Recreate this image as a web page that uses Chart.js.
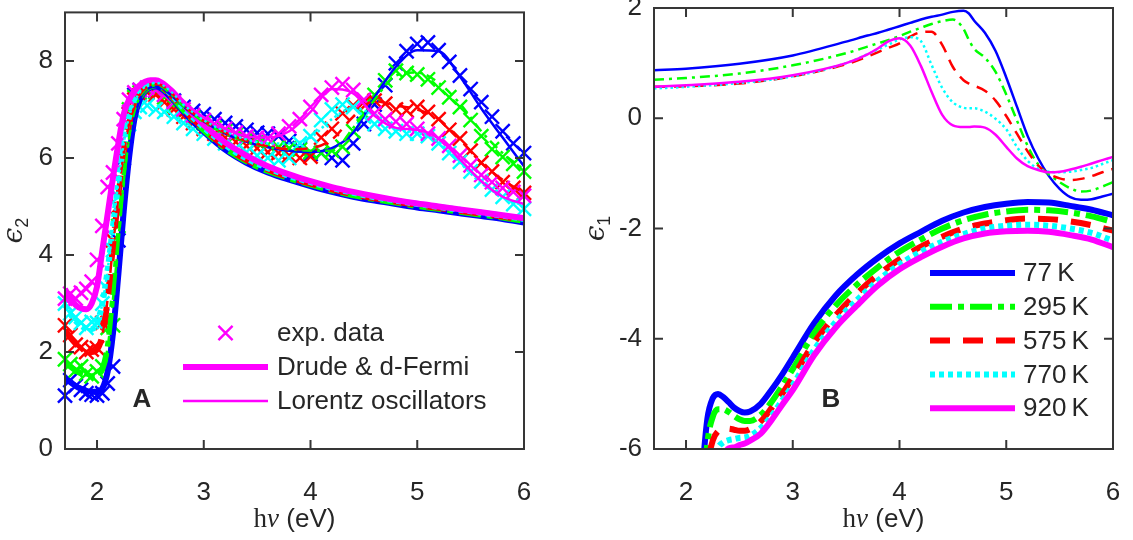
<!DOCTYPE html>
<html><head><meta charset="utf-8">
<script src="https://cdn.jsdelivr.net/npm/chart.js@4.4.1/dist/chart.umd.min.js"></script>
<style>
html,body{margin:0;padding:0;background:#fff;}
#wrap{position:relative;width:1133px;height:540px;overflow:hidden;}
canvas{position:absolute;top:0;}
#cA{left:0;} #cB{left:566px;}
</style></head><body>
<div id="wrap"><canvas id="cA" width="566" height="540"></canvas><canvas id="cB" width="567" height="540"></canvas></div>
<script>
// ---------- tick labels ----------
const xTicks = [2, 3, 4, 5, 6];
const yTicksA = [0, 2, 4, 6, 8];
const yTicksB = [-6, -4, -2, 0, 2];

// ---------- series names ----------
const tempLabels = ['77\u2009K', '295\u2009K', '575\u2009K', '770\u2009K', '920\u2009K'];
const legendLabelsA = ['exp. data', 'Drude & d-Fermi', 'Lorentz oscillators'];

// ---------- panel A : epsilon_2 ----------
const eA = [1.7,1.75,1.8,1.85,1.9,1.95,2.0,2.05,2.1,2.15,2.2,2.25,2.3,2.35,2.4,2.45,2.5,2.55,2.6,2.7,2.8,2.9,3.0,3.2,3.4,3.6,3.8,4.0,4.2,4.4,4.6,4.8,5.0,5.2,5.4,5.6,5.8,6.0];
const drudeA77  = [1.45,1.38,1.3,1.24,1.2,1.18,1.18,1.25,1.6,2.4,3.6,4.9,6.0,6.8,7.2,7.38,7.45,7.47,7.43,7.23,6.98,6.75,6.54,6.17,5.9,5.7,5.55,5.42,5.3,5.2,5.12,5.05,4.98,4.92,4.86,4.8,4.74,4.67];
const drudeA295 = [1.8,1.7,1.62,1.56,1.52,1.5,1.52,1.65,2.1,3.1,4.3,5.5,6.4,6.95,7.25,7.4,7.47,7.5,7.46,7.26,7.01,6.78,6.57,6.2,5.93,5.73,5.58,5.45,5.33,5.23,5.15,5.08,5.01,4.95,4.89,4.83,4.77,4.7];
const drudeA575 = [2.45,2.3,2.17,2.08,2.02,2.0,2.05,2.35,3.1,4.2,5.2,6.1,6.7,7.05,7.3,7.43,7.5,7.52,7.48,7.28,7.03,6.8,6.6,6.23,5.96,5.76,5.6,5.47,5.35,5.25,5.17,5.1,5.03,4.97,4.91,4.85,4.79,4.72];
const drudeA770 = [2.95,2.78,2.64,2.54,2.48,2.47,2.6,3.0,3.7,4.6,5.5,6.3,6.85,7.15,7.35,7.47,7.53,7.55,7.5,7.3,7.05,6.83,6.63,6.27,5.99,5.79,5.63,5.5,5.38,5.28,5.19,5.12,5.05,4.99,4.93,4.87,4.81,4.74];
const drudeA920 = [3.3,3.1,2.97,2.9,2.88,3.0,3.35,4.1,4.85,5.6,6.3,6.9,7.2,7.38,7.5,7.57,7.6,7.6,7.56,7.38,7.13,6.9,6.68,6.32,6.05,5.83,5.66,5.52,5.4,5.3,5.21,5.13,5.06,5.0,4.94,4.88,4.82,4.76];

const lorA77  = [1.45,1.38,1.3,1.24,1.2,1.18,1.18,1.25,1.6,2.4,3.6,4.9,6.0,6.8,7.2,7.38,7.45,7.47,7.45,7.28,7.08,6.9,6.75,6.5,6.33,6.22,6.15,6.12,6.2,6.52,7.25,7.88,8.22,8.2,7.68,7.02,6.42,5.83];
const lorA295 = [1.8,1.7,1.62,1.56,1.52,1.5,1.52,1.65,2.1,3.1,4.3,5.5,6.4,6.95,7.25,7.4,7.47,7.5,7.48,7.3,7.08,6.9,6.74,6.5,6.33,6.22,6.18,6.15,6.15,6.62,7.2,7.7,7.76,7.55,7.12,6.55,6.1,5.76];
const lorA575 = [2.45,2.3,2.17,2.08,2.02,2.0,2.05,2.35,3.1,4.2,5.2,6.1,6.7,7.05,7.3,7.43,7.5,7.52,7.5,7.33,7.1,6.92,6.76,6.52,6.35,6.24,6.18,6.2,6.38,6.85,7.17,7.08,7.0,6.8,6.38,5.9,5.55,5.28];
const lorA770 = [2.95,2.78,2.64,2.54,2.48,2.47,2.6,3.0,3.7,4.6,5.5,6.3,6.85,7.15,7.35,7.47,7.53,7.55,7.52,7.36,7.12,6.94,6.78,6.55,6.38,6.3,6.3,6.42,6.8,7.03,6.88,6.6,6.52,6.32,5.9,5.48,5.2,5.01];
const lorA920 = [3.3,3.1,2.97,2.9,2.88,3.0,3.35,4.1,4.85,5.6,6.3,6.9,7.2,7.38,7.5,7.57,7.6,7.6,7.58,7.42,7.2,7.0,6.84,6.6,6.45,6.42,6.55,6.95,7.42,7.33,6.87,6.62,6.58,6.4,5.97,5.52,5.2,5.05];

const expE = [1.70,1.75,1.80,1.85,1.90,1.95,2.00,2.05,2.10,2.15,2.20,2.25,2.30,2.35,2.40,2.47,2.55,2.63,2.72,2.81,2.90,3.00,3.10,3.20,3.30,3.40,3.50,3.60,3.70,3.80,3.90,4.00,4.10,4.20,4.30,4.40,4.50,4.60,4.70,4.80,4.90,5.00,5.10,5.20,5.30,5.40,5.50,5.60,5.70,5.80,5.90,6.00];
const expA77  = [1.1,1.42,1.3,1.22,1.15,1.12,1.1,1.15,1.35,1.7,4.3,6.0,6.9,7.3,7.4,7.42,7.38,7.3,7.18,7.05,6.97,6.9,6.8,6.72,6.65,6.58,6.52,6.5,6.45,6.35,6.2,6.08,6.1,6.0,5.95,6.3,6.7,7.1,7.5,7.95,8.2,8.35,8.38,8.22,7.98,7.7,7.42,7.15,6.85,6.55,6.3,6.1];
const expA295 = [1.85,1.75,1.62,1.7,1.55,1.5,1.6,1.7,2.5,2.55,4.6,6.2,7.0,7.25,7.35,7.4,7.35,7.25,7.08,6.95,6.83,6.72,6.62,6.55,6.48,6.4,6.33,6.27,6.22,6.2,6.17,6.12,6.1,6.15,6.23,6.55,6.91,7.3,7.6,7.8,7.75,7.72,7.62,7.45,7.25,7.05,6.78,6.45,6.18,6.02,5.88,5.72];
const expA575 = [2.55,2.35,2.15,2.1,2.0,2.05,2.08,2.6,2.6,4.3,5.0,6.2,6.9,7.2,7.3,7.35,7.3,7.15,7.0,6.85,6.72,6.6,6.5,6.42,6.33,6.25,6.2,6.12,6.1,6.05,6.0,6.03,6.42,6.6,6.92,7.08,7.15,7.18,7.12,7.0,6.98,7.05,6.95,6.8,6.58,6.4,6.15,5.9,5.72,5.5,5.38,5.28];
const expA770 = [3.0,2.8,2.72,2.6,2.5,2.62,2.6,3.0,3.3,4.1,5.2,6.1,6.7,6.95,7.05,7.08,7.0,6.95,6.85,6.72,6.6,6.5,6.4,6.3,6.2,6.12,6.05,6.0,5.95,6.0,6.3,6.45,6.78,7.0,7.1,7.05,6.85,6.7,6.6,6.55,6.5,6.5,6.45,6.3,6.1,5.92,5.72,5.52,5.35,5.2,5.05,4.95];
const expA920 = [3.1,3.2,3.1,3.22,3.3,3.45,3.9,4.6,5.4,5.7,6.3,6.8,7.2,7.35,7.4,7.45,7.4,7.3,7.15,7.0,6.88,6.78,6.7,6.6,6.52,6.45,6.42,6.4,6.5,6.65,6.8,7.05,7.3,7.45,7.52,7.4,7.2,6.92,6.8,6.75,6.7,6.6,6.5,6.4,6.25,6.05,5.85,5.65,5.5,5.38,5.3,5.22];

// ---------- panel B : epsilon_1 ----------
const eBthin = [1.7,2.0,2.5,3.0,3.5,3.7,3.8,3.9,4.0,4.1,4.2,4.3,4.4,4.5,4.6,4.65,4.7,4.8,4.9,5.0,5.1,5.2,5.3,5.4,5.5,5.6,5.7,5.8,5.9,6.0];
const lorB77  = [0.87,0.9,0.99,1.14,1.39,1.5,1.55,1.61,1.67,1.73,1.79,1.84,1.88,1.93,1.95,1.9,1.77,1.55,1.22,0.74,0.21,-0.32,-0.73,-1.05,-1.28,-1.43,-1.48,-1.47,-1.42,-1.37];
const lorB295 = [0.7,0.73,0.81,0.96,1.18,1.3,1.36,1.42,1.49,1.57,1.64,1.71,1.76,1.79,1.62,1.42,1.26,1.1,0.84,0.43,-0.04,-0.5,-0.84,-1.02,-1.16,-1.27,-1.33,-1.31,-1.24,-1.16];
const lorB575 = [0.57,0.58,0.63,0.76,0.98,1.12,1.2,1.28,1.36,1.48,1.56,1.57,1.33,0.93,0.69,0.63,0.59,0.5,0.32,0.04,-0.28,-0.6,-0.86,-1.01,-1.09,-1.12,-1.1,-1.05,-0.98,-0.92];
const lorB770 = [0.54,0.57,0.64,0.76,1.0,1.16,1.25,1.34,1.43,1.47,1.4,0.97,0.55,0.29,0.19,0.18,0.18,0.12,-0.01,-0.2,-0.52,-0.77,-0.92,-0.97,-0.98,-0.97,-0.94,-0.9,-0.83,-0.76];
const lorB920 = [0.57,0.6,0.66,0.78,1.0,1.16,1.27,1.4,1.45,1.32,0.95,0.48,0.06,-0.13,-0.16,-0.16,-0.15,-0.17,-0.3,-0.52,-0.73,-0.87,-0.94,-0.98,-0.97,-0.93,-0.88,-0.82,-0.76,-0.7];

const eBthick = [2.1,2.15,2.2,2.25,2.3,2.35,2.4,2.45,2.5,2.55,2.6,2.7,2.8,2.9,3.0,3.2,3.4,3.6,3.8,4.0,4.2,4.4,4.6,4.8,5.0,5.2,5.4,5.6,5.8,6.0];
const drudeB77  = [-8,-6.5,-5.45,-5.08,-5.0,-5.06,-5.15,-5.25,-5.31,-5.34,-5.32,-5.18,-4.93,-4.65,-4.34,-3.72,-3.22,-2.84,-2.53,-2.27,-2.06,-1.86,-1.71,-1.61,-1.55,-1.52,-1.53,-1.59,-1.66,-1.76];
const drudeB295 = [-8.5,-7.2,-5.9,-5.42,-5.28,-5.28,-5.33,-5.4,-5.46,-5.49,-5.49,-5.38,-5.15,-4.86,-4.55,-3.9,-3.4,-3.02,-2.7,-2.42,-2.2,-2.0,-1.85,-1.75,-1.69,-1.66,-1.67,-1.71,-1.78,-1.88];
const drudeB575 = [-9,-8,-6.4,-5.85,-5.68,-5.63,-5.63,-5.65,-5.67,-5.67,-5.64,-5.5,-5.26,-5.0,-4.7,-4.07,-3.58,-3.18,-2.84,-2.56,-2.33,-2.15,-2.0,-1.91,-1.85,-1.82,-1.83,-1.87,-1.94,-2.04];
const drudeB770 = [-9,-8.5,-7.3,-6.3,-5.98,-5.88,-5.84,-5.82,-5.8,-5.79,-5.76,-5.62,-5.4,-5.12,-4.84,-4.2,-3.7,-3.3,-2.94,-2.65,-2.42,-2.24,-2.1,-2.0,-1.95,-1.93,-1.95,-2.0,-2.08,-2.22];
const drudeB920 = [-9,-9,-8.5,-7.5,-6.6,-6.15,-5.99,-5.97,-5.93,-5.9,-5.85,-5.72,-5.48,-5.2,-4.93,-4.3,-3.8,-3.4,-3.03,-2.74,-2.52,-2.33,-2.18,-2.09,-2.05,-2.04,-2.06,-2.12,-2.2,-2.34];

// ---------- styles ----------
const COLORS = ['#0000ff', '#00ff00', '#ff0000', '#00ffff', '#ff00ff'];
const DASH_THICK = [[], [22, 6, 6, 6], [20, 13], [5, 4], []];
const DASH_THIN = [[], [10, 5, 3, 5], [12, 8], [2.5, 3], []];
const LW_THICK = 6, LW_THIN = 2.5;
const SANS = '"Liberation Sans", Arial, sans-serif';
const TXT = '#262626';

const pts = (xs, ys) => xs.map((x, i) => ({x, y: ys[i]}));

function lineDs(xs, ys, i, thick) {
  return {
    type: 'line', data: pts(xs, ys), borderColor: COLORS[i], backgroundColor: COLORS[i],
    borderWidth: thick ? LW_THICK : LW_THIN, borderDash: thick ? DASH_THICK[i] : DASH_THIN[i],
    borderCapStyle: 'butt', borderJoinStyle: 'round', pointRadius: 0, fill: false,
    cubicInterpolationMode: 'monotone'
  };
}
function expDs(ys, i) {
  return {
    type: 'line', showLine: false, data: pts(expE, ys), borderColor: COLORS[i], backgroundColor: COLORS[i],
    pointStyle: 'crossRot', pointRadius: 10, pointBorderWidth: 2.4, clip: false
  };
}

const drudeA = [drudeA77, drudeA295, drudeA575, drudeA770, drudeA920];
const lorA = [lorA77, lorA295, lorA575, lorA770, lorA920];
const expA = [expA77, expA295, expA575, expA770, expA920];
const lorB = [lorB77, lorB295, lorB575, lorB770, lorB920];
const drudeB = [drudeB77, drudeB295, drudeB575, drudeB770, drudeB920];

// draw order bottom -> top, then reversed because Chart.js paints dataset 0 last
let dsA = [];
for (let i = 0; i < 5; i++) { dsA.push(expDs(expA[i], i)); }
for (let i = 0; i < 5; i++) { dsA.push(lineDs(eA, drudeA[i], i, true)); }
for (let i = 0; i < 5; i++) { dsA.push(lineDs(eA, lorA[i], i, false)); }
dsA.reverse();
let dsB = [];
for (let i = 0; i < 5; i++) { dsB.push(lineDs(eBthin, lorB[i], i, false)); }
for (let i = 0; i < 5; i++) { dsB.push(lineDs(eBthick, drudeB[i], i, true)); }
dsB.reverse();

function drawRuns(ctx, runs, cx, cy) {
  let total = 0;
  runs.forEach(r => { ctx.font = r.font; r.w = ctx.measureText(r.t).width; total += r.w; });
  let x = cx - total / 2;
  runs.forEach(r => { ctx.font = r.font; ctx.fillText(r.t, x, cy + (r.dy || 0)); x += r.w; });
}

function decor(cfg) {
  return {
    id: 'decor',
    afterDraw(chart) {
      const ctx = chart.ctx, a = chart.chartArea, xs = chart.scales.x, ys = chart.scales.y;
      ctx.save();
      ctx.strokeStyle = '#363636'; ctx.lineWidth = 2; ctx.setLineDash([]);
      ctx.strokeRect(a.left, a.top, a.right - a.left, a.bottom - a.top);
      const tl = 9;
      ctx.beginPath();
      xs.ticks.forEach(t => { const p = xs.getPixelForValue(t.value);
        ctx.moveTo(p, a.bottom); ctx.lineTo(p, a.bottom - tl); ctx.moveTo(p, a.top); ctx.lineTo(p, a.top + tl); });
      ys.ticks.forEach(t => { const p = ys.getPixelForValue(t.value);
        ctx.moveTo(a.left, p); ctx.lineTo(a.left + tl, p); ctx.moveTo(a.right, p); ctx.lineTo(a.right - tl, p); });
      ctx.stroke();
      // x title
      ctx.fillStyle = TXT; ctx.textBaseline = 'alphabetic'; ctx.textAlign = 'left';
      drawRuns(ctx, [
        {t: 'h', font: '27px "Liberation Serif", serif'},
        {t: '\u03bd', font: 'italic 27px "Liberation Serif", serif'},
        {t: ' (eV)', font: '26px ' + SANS}
      ], (a.left + a.right) / 2, 527);
      // y title (rotated)
      ctx.save();
      ctx.translate(cfg.ytx, (a.top + a.bottom) / 2);
      ctx.rotate(-Math.PI / 2);
      drawRuns(ctx, [
        {t: '\u03f5', font: 'italic 28px "DejaVu Serif", serif'},
        {t: cfg.ysub, font: '18px ' + SANS, dy: 6}
      ], 0, 6);
      ctx.restore();
      // panel letter
      ctx.font = 'bold 26px ' + SANS; ctx.textAlign = 'center'; ctx.textBaseline = 'middle';
      ctx.fillText(cfg.letter, cfg.lx, cfg.ly);
      // legend
      ctx.textAlign = 'left'; ctx.font = '26px ' + SANS;
      cfg.legend.forEach(it => {
        ctx.strokeStyle = it.color; ctx.fillStyle = it.color;
        if (it.kind === 'marker') {
          const r = 10 * Math.SQRT1_2; const mx = (cfg.l0 + cfg.l1) / 2;
          ctx.lineWidth = 2.4; ctx.setLineDash([]);
          ctx.beginPath(); ctx.moveTo(mx - r, it.y - r); ctx.lineTo(mx + r, it.y + r);
          ctx.moveTo(mx - r, it.y + r); ctx.lineTo(mx + r, it.y - r); ctx.stroke();
        } else {
          ctx.lineWidth = it.lw; ctx.setLineDash(it.dash); ctx.lineCap = 'butt';
          ctx.beginPath(); ctx.moveTo(cfg.l0, it.y); ctx.lineTo(cfg.l1, it.y); ctx.stroke();
        }
        ctx.setLineDash([]);
        ctx.fillStyle = TXT; ctx.textBaseline = 'middle';
        ctx.fillText(it.label, cfg.tx, it.y + 1);
      });
      ctx.restore();
    }
  };
}

function makeOpts(yMin, yMax, yTicks, yWidth, padRight) {
  const tickFont = {family: SANS, size: 26};
  return {
    responsive: false, animation: false, devicePixelRatio: 1,
    layout: {padding: {left: 0, top: 8, right: padRight, bottom: 0}},
    plugins: {legend: {display: false}, tooltip: {enabled: false}},
    scales: {
      x: {type: 'linear', min: 1.7, max: 6,
        grid: {display: false, drawTicks: false}, border: {display: false},
        ticks: {font: tickFont, color: TXT, padding: 28, maxRotation: 0},
        afterBuildTicks: s => { s.ticks = xTicks.map(v => ({value: v})); },
        afterFit: s => { s.height = 91; s.paddingLeft = 0; s.paddingRight = 0; }
      },
      y: {type: 'linear', min: yMin, max: yMax,
        grid: {display: false, drawTicks: false}, border: {display: false},
        ticks: {font: tickFont, color: TXT, padding: 12},
        afterBuildTicks: s => { s.ticks = yTicks.map(v => ({value: v})); },
        afterFit: s => { s.width = yWidth; s.paddingTop = 0; s.paddingBottom = 0; }
      }
    }
  };
}

new Chart(document.getElementById('cA'), {
  type: 'line',
  data: {datasets: dsA},
  options: makeOpts(0, 9, yTicksA, 65, 42),
  plugins: [decor({
    ytx: 16, ysub: '2', letter: 'A', lx: 142, ly: 400, l0: 183, l1: 268, tx: 277,
    legend: [
      {kind: 'marker', color: COLORS[4], y: 333, label: legendLabelsA[0]},
      {kind: 'line', color: COLORS[4], lw: LW_THICK, dash: [], y: 367, label: legendLabelsA[1]},
      {kind: 'line', color: COLORS[4], lw: LW_THIN, dash: [], y: 401, label: legendLabelsA[2]}
    ]
  })]
});

new Chart(document.getElementById('cB'), {
  type: 'line',
  data: {datasets: dsB},
  options: makeOpts(-6, 2, yTicksB, 88, 20),
  plugins: [decor({
    ytx: 32, ysub: '1', letter: 'B', lx: 265, ly: 400, l0: 364, l1: 449, tx: 457,
    legend: tempLabels.map((t, i) => ({kind: 'line', color: COLORS[i], lw: LW_THICK, dash: DASH_THICK[i], y: 273 + i * 33.8, label: t}))
  })]
});
</script>
</body></html>
